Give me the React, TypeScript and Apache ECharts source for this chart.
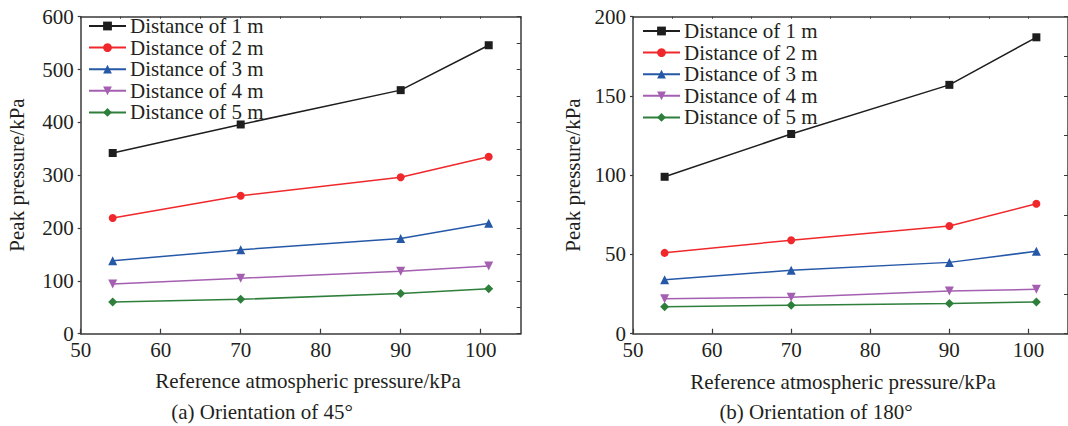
import React, { useEffect, useRef } from "react";
import * as echarts from "echarts";

const pressures = [54, 70, 90, 101];
const seriesNames = ["Distance of 1 m", "Distance of 2 m", "Distance of 3 m", "Distance of 4 m", "Distance of 5 m"];
const orient45_1m = [342, 396, 461, 546];
const orient45_2m = [219, 261, 296, 335];
const orient45_3m = [138, 159, 180, 209];
const orient45_4m = [94, 105, 118, 128];
const orient45_5m = [60, 65, 76, 85];
const orient180_1m = [99, 126, 157, 187];
const orient180_2m = [51, 59, 68, 82];
const orient180_3m = [34, 40, 45, 52];
const orient180_4m = [22, 23, 27, 28];
const orient180_5m = [17, 18, 19, 20];
const xTitle = "Reference atmospheric pressure/kPa";
const yTitle = "Peak pressure/kPa";
const captionA = "(a) Orientation of 45°";
const captionB = "(b) Orientation of 180°";

const FONT = "'Liberation Serif', 'Times New Roman', serif";
const TXT = "#231f20";
const AX = "#3a3a3a";
const colors = ["#1e1e1e", "#f0282c", "#2658a8", "#a45fb0", "#2f7f3c"];
const symbols = ["rect", "circle", "triangle", "triangle", "diamond"];
const symbolSizes = [8, 8, 9, 9, 9];
const rotates = [0, 0, 0, 180, 0];

export default function App() {
  const ref = useRef<HTMLDivElement>(null);
  useEffect(() => {
    if (!ref.current) return;
    const chart = echarts.init(ref.current, null, { renderer: "svg" });
    const g0 = { left: 80.7, top: 16.7, width: 440, height: 317 };
    const g1 = { left: 633, top: 16.7, width: 440, height: 317 };
    const setA = [orient45_1m, orient45_2m, orient45_3m, orient45_4m, orient45_5m];
    const setB = [orient180_1m, orient180_2m, orient180_3m, orient180_4m, orient180_5m];

    const bottomX = (gi: number) => ({
      type: "value", gridIndex: gi, position: "bottom", min: 50, max: 105, interval: 10,
      axisLine: { show: true, onZero: false, lineStyle: { color: AX, width: 1.5 } },
      axisTick: { show: true, inside: true, length: 5, lineStyle: { color: AX, width: 1.2 } },
      axisLabel: { show: true, margin: 8, color: TXT, fontFamily: FONT, fontSize: 21, lineHeight: 16,
        showMaxLabel: false, formatter: (v: number) => (v % 10 === 0 ? String(v) : "") },
      splitLine: { show: false },
    });
    const topX = (gi: number) => ({
      type: "value", gridIndex: gi, position: "top", min: 50, max: 105, interval: 5,
      axisLine: { show: true, onZero: false, lineStyle: { color: AX, width: 1.5 } },
      axisTick: { show: true, inside: true, length: 2, lineStyle: { color: AX, width: 1 } },
      axisLabel: { show: false }, splitLine: { show: false },
    });
    const leftY = (gi: number, max: number, interval: number) => ({
      type: "value", gridIndex: gi, position: "left", min: 0, max, interval,
      axisLine: { show: true, onZero: false, lineStyle: { color: AX, width: 1.5 } },
      axisTick: { show: true, inside: false, length: 3, lineStyle: { color: AX, width: 1.2 } },
      axisLabel: { show: true, margin: 7, color: TXT, fontFamily: FONT, fontSize: 21, lineHeight: 16 },
      splitLine: { show: false },
    });
    const rightY = (gi: number, max: number, interval: number) => ({
      type: "value", gridIndex: gi, position: "right", min: 0, max, interval,
      axisLine: { show: true, onZero: false, lineStyle: { color: AX, width: 1.5 } },
      axisTick: { show: true, inside: true, length: 4, lineStyle: { color: AX, width: 1 } },
      axisLabel: { show: false }, splitLine: { show: false },
    });

    const mkSeries = (data: number[][], xi: number, yi: number) =>
      data.map((vals, i) => ({
        name: seriesNames[i],
        type: "line",
        xAxisIndex: xi,
        yAxisIndex: yi,
        data: pressures.map((p, j) => [p, vals[j]]),
        symbol: symbols[i],
        symbolSize: symbolSizes[i],
        symbolRotate: rotates[i],
        showAllSymbol: true,
        lineStyle: { color: colors[i], width: 1.5 },
        itemStyle: { color: colors[i], borderWidth: 0 },
        z: 10 - i,
      }));

    const legendCommon = {
      orient: "vertical", padding: 0, itemGap: 0.6, itemWidth: 37, itemHeight: 11,
      data: seriesNames, selectedMode: false,
      textStyle: { color: TXT, fontFamily: FONT, fontSize: 21, lineHeight: 20, padding: [0, 0, 0, -1] },
    };

    const txt = (text: string, x: number, y: number, rot = 0) => ({
      type: "text", x, y, rotation: rot,
      style: { text, fill: TXT, font: `21px ${FONT}`, align: "center", verticalAlign: "middle" },
    });

    chart.setOption({
      animation: false,
      backgroundColor: "#ffffff",
      grid: [g0, g1],
      xAxis: [bottomX(0), topX(0), bottomX(1), topX(1)],
      yAxis: [leftY(0, 600, 100), rightY(0, 600, 50), leftY(1, 200, 50), rightY(1, 200, 25)],
      legend: [
        { ...legendCommon, left: 88, top: 15.5 },
        { ...legendCommon, left: 642, top: 20.5 },
      ],
      series: [...mkSeries(setA, 0, 0), ...mkSeries(setB, 2, 2)],
      graphic: [
        txt(xTitle, 308, 381),
        txt(xTitle, 843, 382),
        txt(yTitle, 17, 175, Math.PI / 2),
        txt(yTitle, 573, 175, Math.PI / 2),
        txt(captionA, 262, 412),
        txt(captionB, 816, 412),
      ],
    });
    return () => chart.dispose();
  }, []);
  return (
    <div
      ref={ref}
      style={{ position: "fixed", left: 0, top: 0, width: 1068, height: 426, background: "#fff" }}
    />
  );
}
